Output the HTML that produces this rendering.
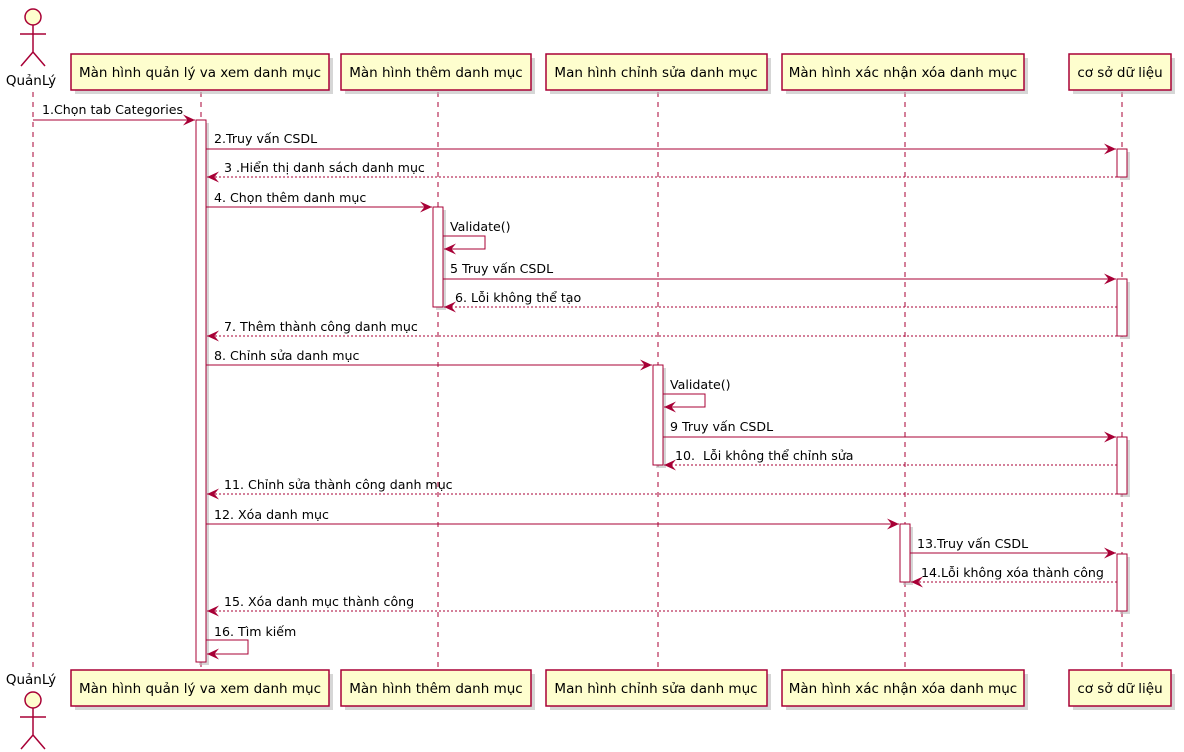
<!DOCTYPE html>
<html><head><meta charset="utf-8"><style>
html,body{margin:0;padding:0;background:#fff;}
svg{display:block;font-family:"DejaVu Sans","Liberation Sans",sans-serif;font-size:12.6px;}
.p{font-size:13.5px;}
</style></head><body>
<svg width="1184" height="752" viewBox="0 0 1184 752" xmlns="http://www.w3.org/2000/svg">
<defs>
<marker id="a" markerWidth="13" markerHeight="11" refX="12" refY="5.5" orient="auto" markerUnits="userSpaceOnUse">
<path d="M0,0 L12,5.5 L0,11 L4.5,5.5 Z" fill="#A80036"/>
</marker>
</defs>
<g stroke="#A80036" stroke-width="1" stroke-dasharray="5,5" fill="none">
<line x1="33" y1="92" x2="33" y2="668"/>
<line x1="201" y1="92" x2="201" y2="670"/>
<line x1="438" y1="92" x2="438" y2="670"/>
<line x1="658" y1="92" x2="658" y2="670"/>
<line x1="905" y1="92" x2="905" y2="670"/>
<line x1="1122" y1="92" x2="1122" y2="670"/>
</g>
<g fill="#FEFECE" stroke="#A80036" stroke-width="1.5">
<g fill="#bbb" stroke="none" opacity="0.6">
<rect x="75" y="58" width="258" height="36"/><rect x="345" y="58" width="190" height="36"/><rect x="550" y="58" width="221" height="36"/><rect x="786" y="58" width="242" height="36"/><rect x="1073" y="58" width="102" height="36"/>
<rect x="75" y="674" width="258" height="36"/><rect x="345" y="674" width="190" height="36"/><rect x="550" y="674" width="221" height="36"/><rect x="786" y="674" width="242" height="36"/><rect x="1073" y="674" width="102" height="36"/>
</g>
<rect x="71" y="54" width="258" height="36"/><rect x="341" y="54" width="190" height="36"/><rect x="546" y="54" width="221" height="36"/><rect x="782" y="54" width="242" height="36"/><rect x="1069" y="54" width="102" height="36"/>
<rect x="71" y="670" width="258" height="36"/><rect x="341" y="670" width="190" height="36"/><rect x="546" y="670" width="221" height="36"/><rect x="782" y="670" width="242" height="36"/><rect x="1069" y="670" width="102" height="36"/>
</g>
<g fill="#000" text-anchor="middle" class="p">
<text x="200" y="77">Màn hình quản lý va xem danh mục</text>
<text x="436" y="77">Màn hình thêm danh mục</text>
<text x="656" y="77">Man hình chỉnh sửa danh mục</text>
<text x="903" y="77">Màn hình xác nhận xóa danh mục</text>
<text x="1120" y="77">cơ sở dữ liệu</text>
<text x="200" y="693">Màn hình quản lý va xem danh mục</text>
<text x="436" y="693">Màn hình thêm danh mục</text>
<text x="656" y="693">Man hình chỉnh sửa danh mục</text>
<text x="903" y="693">Màn hình xác nhận xóa danh mục</text>
<text x="1120" y="693">cơ sở dữ liệu</text>
<text x="31" y="85">QuảnLý</text>
<text x="31" y="684">QuảnLý</text>
</g>
<g fill="#FEFECE" stroke="#A80036" stroke-width="1.5">
<circle cx="33" cy="17" r="8"/>
<path d="M33,25 V52 M20,34 H46 M33,52 L21,66 M33,52 L45,66" fill="none"/>
<circle cx="33" cy="700" r="8"/>
<path d="M33,708 V735 M20,717 H46 M33,735 L21,749 M33,735 L45,749" fill="none"/>
</g>
<g fill="#fff" stroke="#A80036" stroke-width="1">
<g fill="#bbb" stroke="none" opacity="0.6">
<rect x="199" y="123" width="10" height="542"/>
<rect x="436" y="210" width="10" height="100"/>
<rect x="656" y="368" width="10" height="100"/>
<rect x="903" y="527" width="10" height="58"/>
<rect x="1120" y="152" width="10" height="28"/>
<rect x="1120" y="282" width="10" height="57"/>
<rect x="1120" y="440" width="10" height="57"/>
<rect x="1120" y="557" width="10" height="57"/>
</g>
<rect x="196" y="120" width="10" height="542"/>
<rect x="433" y="207" width="10" height="100"/>
<rect x="653" y="365" width="10" height="100"/>
<rect x="900" y="524" width="10" height="58"/>
<rect x="1117" y="149" width="10" height="28"/>
<rect x="1117" y="279" width="10" height="57"/>
<rect x="1117" y="437" width="10" height="57"/>
<rect x="1117" y="554" width="10" height="57"/>
</g>
<g stroke="#A80036" stroke-width="1" fill="none">
<line x1="33" y1="120" x2="195" y2="120" marker-end="url(#a)"/>
<line x1="206" y1="149" x2="1116" y2="149" marker-end="url(#a)"/>
<line x1="1117" y1="177" x2="207" y2="177" stroke-dasharray="2,2" marker-end="url(#a)"/>
<line x1="206" y1="207" x2="432" y2="207" marker-end="url(#a)"/>
<path d="M443,236 H485 V249 H444" marker-end="url(#a)"/>
<line x1="443" y1="279" x2="1116" y2="279" marker-end="url(#a)"/>
<line x1="1117" y1="307" x2="444" y2="307" stroke-dasharray="2,2" marker-end="url(#a)"/>
<line x1="1117" y1="336" x2="207" y2="336" stroke-dasharray="2,2" marker-end="url(#a)"/>
<line x1="206" y1="365" x2="652" y2="365" marker-end="url(#a)"/>
<path d="M663,394 H705 V407 H664" marker-end="url(#a)"/>
<line x1="663" y1="437" x2="1116" y2="437" marker-end="url(#a)"/>
<line x1="1117" y1="465" x2="664" y2="465" stroke-dasharray="2,2" marker-end="url(#a)"/>
<line x1="1117" y1="494" x2="207" y2="494" stroke-dasharray="2,2" marker-end="url(#a)"/>
<line x1="206" y1="524" x2="899" y2="524" marker-end="url(#a)"/>
<line x1="910" y1="553" x2="1116" y2="553" marker-end="url(#a)"/>
<line x1="1117" y1="582" x2="911" y2="582" stroke-dasharray="2,2" marker-end="url(#a)"/>
<line x1="1117" y1="611" x2="207" y2="611" stroke-dasharray="2,2" marker-end="url(#a)"/>
<path d="M206,640 H248 V654 H207" marker-end="url(#a)"/>
</g>
<g fill="#000">
<text x="42" y="114">1.Chọn tab Categories</text>
<text x="214" y="143">2.Truy vấn CSDL</text>
<text x="224" y="172">3 .Hiển thị danh sách danh mục</text>
<text x="214" y="202">4. Chọn thêm danh mục</text>
<text x="450" y="231">Validate()</text>
<text x="450" y="273">5 Truy vấn CSDL</text>
<text x="455" y="302">6. Lỗi không thể tạo</text>
<text x="224" y="331">7. Thêm thành công danh mục</text>
<text x="214" y="360">8. Chỉnh sửa danh mục</text>
<text x="670" y="389">Validate()</text>
<text x="670" y="431">9 Truy vấn CSDL</text>
<text x="675" y="460" xml:space="preserve">10.  Lỗi không thể chỉnh sửa</text>
<text x="224" y="489">11. Chỉnh sửa thành công danh mục</text>
<text x="214" y="519">12. Xóa danh mục</text>
<text x="917" y="548">13.Truy vấn CSDL</text>
<text x="921" y="577">14.Lỗi không xóa thành công</text>
<text x="224" y="606">15. Xóa danh mục thành công</text>
<text x="214" y="636">16. Tìm kiếm</text>
</g>
</svg>
</body></html>
